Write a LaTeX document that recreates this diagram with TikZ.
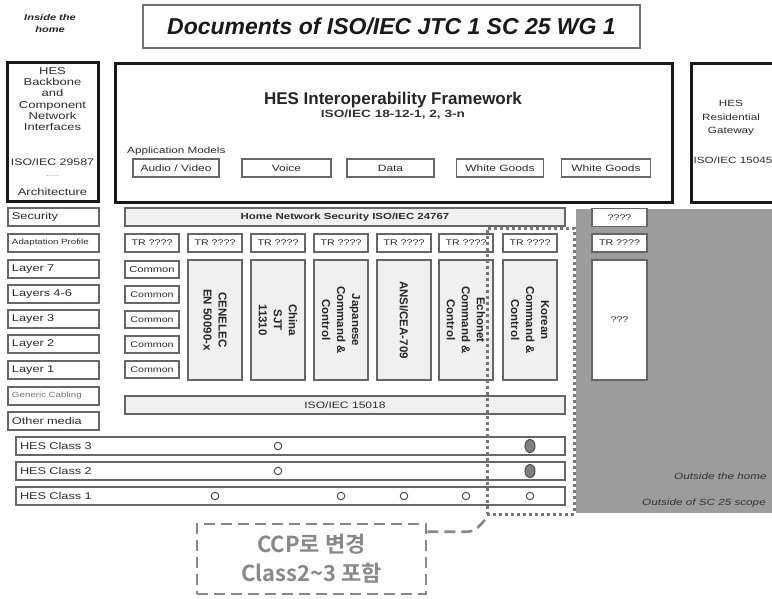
\documentclass[tikz,border=0pt]{standalone}
\usepackage{fontspec}
\setmainfont{Liberation Sans}
\newfontfamily\wide[FakeStretch=1.3]{Liberation Sans}
\newfontfamily\krfont{Noto Sans CJK KR Bold}
\usetikzlibrary{shapes.geometric}
\definecolor{bordc}{HTML}{666666}
\definecolor{lightf}{HTML}{F0F0F0}
\definecolor{grayreg}{HTML}{9C9C9C}
\definecolor{txtc}{HTML}{2C2C2C}
\definecolor{ccpc}{HTML}{888888}
\definecolor{dotc}{HTML}{777777}
\tikzset{
  lbl/.style={draw=bordc, line width=1.4pt, fill=white, inner xsep=4pt, inner ysep=0pt,
    text width=83pt, align=left, minimum height=18pt, text=txtc,
    font=\wide\fontsize{9.8}{11}\selectfont},
  bx/.style={draw=bordc, line width=1.4pt, fill=white, inner sep=0pt, text=txtc,
    font=\wide\fontsize{8.2}{10}\selectfont},
  barbox/.style={bx, fill=lightf, minimum width=440pt, minimum height=18pt},
  trbox/.style={bx, minimum width=54pt, minimum height=18pt},
  combox/.style={bx, minimum width=54pt, minimum height=17pt},
  colbox/.style={bx, fill=lightf, minimum width=54pt, minimum height=120pt},
  coltxt/.style={rotate=-90, align=center, inner sep=0pt, text=black!85,
    font=\bfseries\fontsize{11.5}{15}\selectfont},
  heavy/.style={draw=black!90, line width=3pt, fill=white, inner sep=0pt},
  appbox/.style={bx, minimum height=18pt, font=\wide\fontsize{9.2}{10}\selectfont},
  classrow/.style={draw=bordc, line width=1.4pt, fill=white, inner xsep=4pt, inner ysep=0pt,
    text width=541pt, align=left, minimum height=18pt, text=txtc,
    font=\wide\fontsize{9.8}{11}\selectfont},
  smalldot/.style={circle, draw=black!70, line width=1pt, fill=white, minimum size=7.5pt, inner sep=0pt},
  bigdot/.style={ellipse, draw=black!70, line width=1pt, fill=black!50, minimum width=10pt, minimum height=13pt, inner sep=0pt},
  plain/.style={inner sep=0pt, text=txtc},
  ccpdash/.style={draw=ccpc, line width=2.6pt, dash pattern=on 11pt off 6pt},
  scopedot/.style={draw=dotc, line width=3pt, dash pattern=on 3pt off 3pt}
}
\begin{document}
\begin{tikzpicture}[x=1pt,y=-1pt]
\useasboundingbox (0,0) rectangle (772,598);
\clip (0,0) rectangle (772,598);

% outside region
\fill[grayreg] (576,209) rectangle (772,513);

% title
\node[bx, draw=black!55, minimum width=497pt, minimum height=43pt, text=black!90,
  font=\bfseries\itshape\fontsize{23}{26}\selectfont] (title) at (391.5,26.5)
  {Documents of ISO/IEC JTC 1 SC 25 WG 1};
\node[plain, align=center, text=black!85, font=\wide\bfseries\itshape\fontsize{8.5}{12}\selectfont]
  (inside) at (50,23) {Inside the\\home};

% heavy boxes
\node[heavy, minimum width=91pt, minimum height=139pt] (hesbb) at (52.5,131.5) {};
\node[heavy, minimum width=557pt, minimum height=139pt] (frame) at (393.5,132.5) {};
\node[heavy, minimum width=100pt, minimum height=139pt] (gw) at (741,132.5) {};

% HES backbone texts
\node[plain, align=center, font=\wide\fontsize{10}{11.2}\selectfont] (hesbbt) at (52.5,99)
  {HES\\Backbone\\and\\Component\\Network\\Interfaces};
\node[plain, font=\wide\fontsize{9.5}{11}\selectfont] (hesiso) at (52.5,162) {ISO/IEC 29587};
\node[plain, text=black!50, font=\wide\fontsize{7}{8}\selectfont] (hesdots) at (52.5,176) {.....};
\node[plain, font=\wide\fontsize{10}{11}\selectfont] (hesarch) at (52.5,192) {Architecture};

% framework texts
\node[plain, text=black!85, font=\bfseries\fontsize{17}{20}\selectfont] (fwt) at (393,100)
  {HES Interoperability Framework};
\node[plain, text=black!80, font=\wide\bfseries\fontsize{10.5}{12}\selectfont] (fws) at (393,115)
  {ISO/IEC 18-12-1, 2, 3-n};

% application models
\node[draw=bordc, line width=0.8pt, double=white, double distance=1.2pt,
  minimum width=537pt, minimum height=44pt, inner sep=0pt] (app) at (392.5,165) {};
\node[plain, anchor=west, font=\wide\fontsize{9}{10}\selectfont] (appl) at (127,151) {Application Models};
\node[appbox, minimum width=86pt] (av) at (176,168) {Audio / Video};
\node[appbox, minimum width=89pt] (voice) at (286.5,168) {Voice};
\node[appbox, minimum width=87pt] (data) at (390.5,168) {Data};
\node[appbox, minimum width=87pt] (wg1) at (500,168) {White Goods};
\node[appbox, minimum width=89pt] (wg2) at (606,168) {White Goods};

% gateway texts
\node[plain, align=center, font=\wide\fontsize{9}{13.5}\selectfont] (gwt) at (731,118)
  {HES\\Residential\\Gateway};
\node[plain, font=\wide\fontsize{9}{10}\selectfont] (gwiso) at (733,160) {ISO/IEC 15045};

% left labels
\node[lbl] (lsec) at (53.5,217) {Security};
\node[lbl, font=\wide\fontsize{7.5}{9}\selectfont] (lap) at (53.5,243) {Adaptation Profile};
\node[lbl] (l7) at (53.5,269) {Layer 7};
\node[lbl] (l46) at (53.5,294) {Layers 4-6};
\node[lbl] (l3) at (53.5,319) {Layer 3};
\node[lbl] (l2) at (53.5,344) {Layer 2};
\node[lbl] (l1) at (53.5,370) {Layer 1};
\node[lbl, text=black!55, font=\wide\fontsize{7.5}{9}\selectfont] (lgc) at (53.5,396) {Generic Cabling};
\node[lbl] (lom) at (53.5,421) {Other media};

% security bar
\node[barbox, font=\wide\bfseries\fontsize{8.8}{10}\selectfont] (hns) at (345,217)
  {Home Network Security ISO/IEC 24767};

% TR row
\node[trbox] (tr1) at (152,243) {TR ????};
\node[trbox] (tr2) at (215,243) {TR ????};
\node[trbox] (tr3) at (278,243) {TR ????};
\node[trbox] (tr4) at (341,243) {TR ????};
\node[trbox] (tr5) at (404,243) {TR ????};
\node[trbox] (tr6) at (466,243) {TR ????};
\node[trbox] (tr7) at (530,243) {TR ????};

% common boxes
\node[combox, font=\wide\fontsize{8.6}{10}\selectfont] (cm1) at (152,269.5) {Common};
\node[combox] (cm2) at (152,294.5) {Common};
\node[combox] (cm3) at (152,319.5) {Common};
\node[combox] (cm4) at (152,344.5) {Common};
\node[combox] (cm5) at (152,369.5) {Common};

% tall columns
\node[colbox] (col1) at (215,320) {};
\node[colbox] (col2) at (278,320) {};
\node[colbox] (col3) at (341,320) {};
\node[colbox] (col4) at (404,320) {};
\node[colbox] (col5) at (466,320) {};
\node[colbox] (col6) at (530,320) {};
\node[coltxt] (col1t) at (col1) {CENELEC\\EN 50090-x};
\node[coltxt] (col2t) at (col2) {China\\SJT\\11310};
\node[coltxt] (col3t) at (col3) {Japanese\\Command \&\\Control};
\node[coltxt] (col4t) at (col4) {ANSI/CEA-709};
\node[coltxt] (col5t) at (col5) {Echonet\\Command \&\\Control};
\node[coltxt] (col6t) at (col6) {Korean\\Command \&\\Control};

% 15018 bar
\node[barbox, font=\wide\fontsize{9.3}{10}\selectfont] (b15018) at (345,405) {ISO/IEC 15018};

% right column in outside region
\node[trbox, minimum width=55pt] (rq1) at (619.5,217.5) {????};
\node[trbox, minimum width=55pt] (rq2) at (619.5,243) {TR ????};
\node[colbox, fill=white, minimum width=55pt] (rq3) at (619.5,320) {???};

% class rows
\node[classrow] (c3) at (290.5,446) {HES Class 3};
\node[classrow] (c2) at (290.5,471) {HES Class 2};
\node[classrow] (c1) at (290.5,496) {HES Class 1};

% dots
\node[smalldot] (d3a) at (278,446) {};
\node[bigdot] (d3b) at (530,446) {};
\node[smalldot] (d2a) at (278,471) {};
\node[bigdot] (d2b) at (530,471) {};
\node[smalldot] (d1a) at (215,496) {};
\node[smalldot] (d1b) at (341,496) {};
\node[smalldot] (d1c) at (404,496) {};
\node[smalldot] (d1d) at (466,496) {};
\node[smalldot] (d1e) at (530,496) {};

% scope dotted rectangle
\node[scopedot, minimum width=87pt, minimum height=286pt, inner sep=0pt] (scope) at (530.5,371) {};

% outside texts
\node[plain, anchor=west, text=black!80, font=\wide\itshape\fontsize{9}{11}\selectfont] (outh) at (674,476) {Outside the home};
\node[plain, anchor=west, text=black!80, font=\wide\itshape\fontsize{9}{11}\selectfont] (outs) at (642,503) {Outside of SC 25 scope};

% CCP note
\node[ccpdash, minimum width=229pt, minimum height=70pt, inner sep=0pt, align=center,
  text=ccpc, font=\krfont\fontsize{22}{29}\selectfont] (ccp) at (311.5,559)
  {CCP로 변경\\Class2\textasciitilde 3 포함};
\draw[ccpdash] ([yshift=-9pt]ccp.north east) -- ++(40,0) to[out=0,in=-140] ([xshift=3pt,yshift=-1pt]scope.south west);
\end{tikzpicture}
\end{document}
